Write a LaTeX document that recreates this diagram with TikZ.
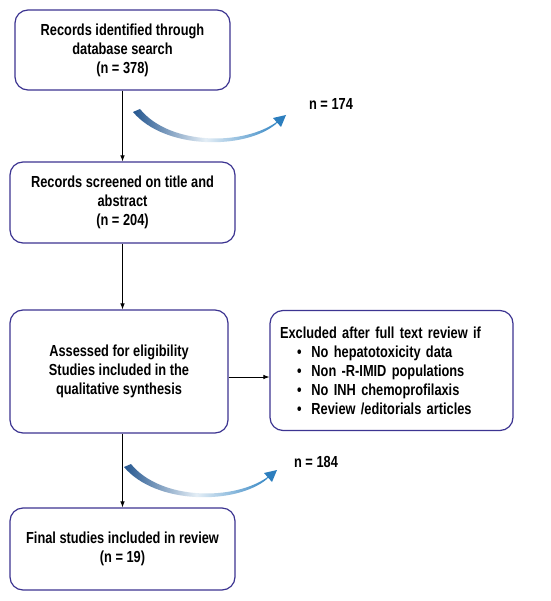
\documentclass[tikz,border=0pt]{standalone}
\usepackage{fontspec}
\setmainfont{Liberation Sans}[FakeStretch=0.80]
\usetikzlibrary{arrows.meta,calc}
\definecolor{boxline}{RGB}{60,52,145}
\definecolor{cdark}{RGB}{36,86,143}
\definecolor{cmid}{RGB}{228,238,246}
\definecolor{cright}{RGB}{52,134,196}
\definecolor{chead}{RGB}{44,126,190}
\begin{document}
\begin{tikzpicture}[x=1pt,y=-1pt,
 box/.style={draw=boxline,line width=1.2pt,rounded corners=13pt,fill=white,align=center,
   font=\bfseries\fontsize{16}{19}\selectfont,inner sep=0pt},
 conn/.style={draw=black,line width=0.8pt,-{Latex[length=6pt,width=4.5pt]}},
 lbl/.style={font=\bfseries\fontsize{16}{19}\selectfont,inner sep=0pt}]
\useasboundingbox[fill=white] (0,0) rectangle (550,601);

\node[box,minimum width=215pt,minimum height=80pt] (b1) at (122.5,50)
  {Records identified through\\database search\\(n = 378)};
\node[box,minimum width=225pt,minimum height=81pt] (b2) at (122.5,202.5)
  {Records screened on title and\\abstract\\(n = 204)};
\node[box,minimum width=218pt,minimum height=123pt] (b3) at (119,371.5)
  {Assessed for eligibility\\Studies included in the\\qualitative synthesis};
\node[box,minimum width=243pt,minimum height=120pt,align=left,text width=223pt,inner xsep=10pt] (b4) at (391.5,370.5)
  {Excluded after full text review if\\
   \hspace*{17pt}\textbullet\hspace{10pt}No hepatotoxicity data\\
   \hspace*{17pt}\textbullet\hspace{10pt}Non -R-IMID populations\\
   \hspace*{17pt}\textbullet\hspace{10pt}No INH chemoprofilaxis\\
   \hspace*{17pt}\textbullet\hspace{10pt}Review /editorials articles};
\node[box,minimum width=225pt,minimum height=82pt] (b5) at (122.5,549)
  {Final studies included in review\\(n = 19)};

\coordinate (p) at ($(b3.east)+(0,5.5)$);
\draw[conn] (b1) -- (b2);
\draw[conn] (b2) -- (b2 |- b3.north);
\draw[conn] (p) -- (p -| b4.west);
\draw[conn] (b5.north |- b3.south) -- (b5.north);

\foreach \dx/\dy in {0/0,-9/355}{
\begin{scope}[shift={(\dx,\dy)}]
  \shade[left color=cdark,right color=cright,middle color=cmid]
    (133,112) .. controls (165,150) and (245,150) .. (276,124)
    -- (278,121) .. controls (245,146) and (170,146) .. (140,109) -- cycle;
  \fill[chead] (286,115) -- (281,127) -- (273,118) -- cycle;
\end{scope}}

\node[lbl] (n1) at (331,104) {n = 174};
\node[lbl] (n2) at (316,462) {n = 184};
\end{tikzpicture}
\end{document}
